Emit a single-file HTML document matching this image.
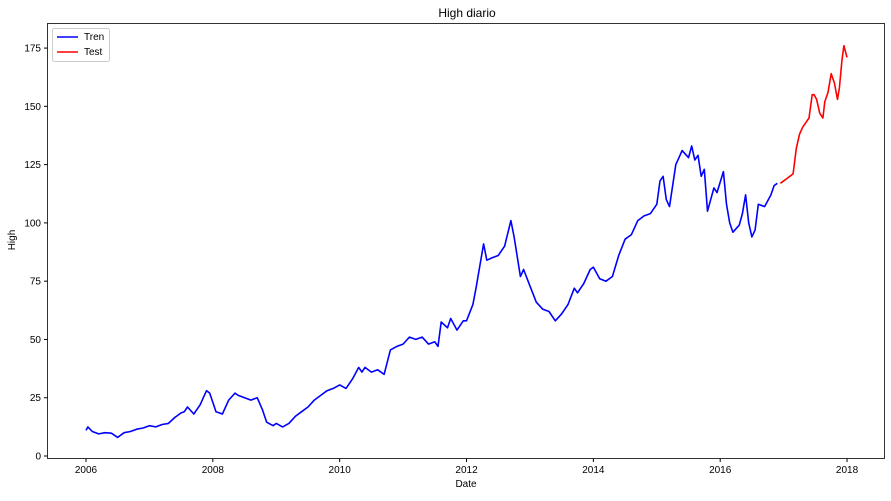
<!DOCTYPE html>
<html><head><meta charset="utf-8"><style>
body{margin:0;background:#fff;font-family:"Liberation Sans","DejaVu Sans",sans-serif}
svg text{font-family:"Liberation Sans","DejaVu Sans",sans-serif;fill:#000}
</style></head><body>
<svg id="chart" width="891" height="496" xmlns="http://www.w3.org/2000/svg">
<text x="467" y="17" font-size="12" text-anchor="middle">High diario</text>
<text x="466" y="487" font-size="10" text-anchor="middle">Date</text>
<text x="15" y="240" font-size="10" text-anchor="middle" transform="rotate(-90 15 240)">High</text>
<g id="ticks"></g>
<g id="series"></g>
<rect x="47.5" y="23.5" width="837" height="435" fill="none" stroke="#000" stroke-width="0.8"/>
<g>
<rect x="52.5" y="28.5" width="57" height="33" rx="2" fill="#fff" stroke="#ccc"/>
<line x1="57" y1="37" x2="78" y2="37" stroke="#0000ff" stroke-width="1.5"/>
<text x="84" y="40" font-size="10">Tren</text>
<line x1="57" y1="52" x2="78" y2="52" stroke="#ff0000" stroke-width="1.5"/>
<text x="84" y="55" font-size="10">Test</text>
</g>
</svg>
<script>
const xTicks=[2006,2008,2010,2012,2014,2016,2018];
const yTicks=[0,25,50,75,100,125,150,175];
const trainDates=[2006.0,2006.03,2006.1,2006.2,2006.3,2006.4,2006.5,2006.6,2006.7,2006.8,2006.9,2007.0,2007.1,2007.2,2007.3,2007.4,2007.5,2007.55,2007.6,2007.7,2007.8,2007.85,2007.9,2007.95,2008.05,2008.15,2008.25,2008.35,2008.4,2008.5,2008.6,2008.7,2008.78,2008.85,2008.95,2009.0,2009.1,2009.2,2009.3,2009.4,2009.5,2009.6,2009.7,2009.8,2009.9,2010.0,2010.1,2010.2,2010.3,2010.35,2010.4,2010.5,2010.6,2010.7,2010.8,2010.9,2011.0,2011.1,2011.2,2011.3,2011.4,2011.5,2011.55,2011.6,2011.7,2011.75,2011.85,2011.95,2012.0,2012.1,2012.15,2012.2,2012.27,2012.32,2012.4,2012.5,2012.6,2012.7,2012.75,2012.85,2012.9,2013.0,2013.1,2013.2,2013.3,2013.4,2013.5,2013.6,2013.7,2013.75,2013.85,2013.95,2014.0,2014.1,2014.2,2014.3,2014.4,2014.5,2014.6,2014.7,2014.8,2014.9,2015.0,2015.05,2015.1,2015.15,2015.2,2015.3,2015.35,2015.4,2015.5,2015.55,2015.6,2015.65,2015.7,2015.75,2015.8,2015.9,2015.95,2016.05,2016.1,2016.15,2016.2,2016.3,2016.35,2016.4,2016.45,2016.5,2016.55,2016.6,2016.7,2016.8,2016.85,2016.9,2016.95];
const trainValues=[11,12.5,10.5,9.5,10,9.8,8,10,10.5,11.5,12,13,12.5,13.5,14,16.5,18.5,19,21,18,22,25,28,27,19,18,24,27,26,25,24,25,20,14.5,13,14,12.5,14,17,19,21,24,26,28,29,30.5,29,33,38,36,38,36,37,35,45.5,47,48,51,50,51,48,49,47,57.5,55,59,54,58,58,65,72,80,91,84,85,86,90,101,94,77,80,73,66,63,62,58,61,65,72,70,74,80,81,76,75,77,86,93,95,101,103,104,108,118,120,110,107,125,128,131,128,133,127,129,120,123,105,115,113,122,108,100,96,99,104,112,100,94,97,108,107,112,116,117];
const testDates=[2016.95,2017.05,2017.15,2017.2,2017.25,2017.3,2017.35,2017.4,2017.45,2017.48,2017.52,2017.57,2017.62,2017.65,2017.7,2017.75,2017.8,2017.85,2017.88,2017.92,2017.95,2018.0];
const testValues=[117,119,121,132,138,141,143,145,155,155,153,147,145,152,156,164,160,153,158,170,176,171];
const X=y=>86+(y-2006)*63.42, Y=v=>456-v*2.331;
const NS='http://www.w3.org/2000/svg';
const tg=document.getElementById('ticks'), sg=document.getElementById('series');
xTicks.forEach(t=>{
 const l=document.createElementNS(NS,'line');l.setAttribute('x1',X(t));l.setAttribute('x2',X(t));l.setAttribute('y1',458.5);l.setAttribute('y2',462);l.setAttribute('stroke','#000');
 
 
 tg.appendChild(l);
 const s=document.createElementNS(NS,'text');s.setAttribute('x',X(t));s.setAttribute('y',473);s.setAttribute('font-size','10');s.setAttribute('text-anchor','middle');s.textContent=t;
 
 
 tg.appendChild(s);
});
yTicks.forEach(t=>{
 const l=document.createElementNS(NS,'line');l.setAttribute('x1',44);l.setAttribute('x2',47.5);l.setAttribute('y1',Y(t));l.setAttribute('y2',Y(t));l.setAttribute('stroke','#000');
 
 
 tg.appendChild(l);
 const s=document.createElementNS(NS,'text');s.setAttribute('x',41);s.setAttribute('y',Y(t)+3.5);s.setAttribute('font-size','10');s.setAttribute('text-anchor','end');s.textContent=t;
 
 
 tg.appendChild(s);
});
function line(d,v,c,name){
 const p=document.createElementNS(NS,'polyline');
 p.setAttribute('points',d.map((x,i)=>X(x).toFixed(1)+','+Y(v[i]).toFixed(1)).join(' '));
 p.setAttribute('fill','none');p.setAttribute('stroke',c);p.setAttribute('stroke-width','1.6');p.setAttribute('stroke-linejoin','round');
 
 
 sg.appendChild(p);
}
line(trainDates,trainValues,'#0000ff','tren-line');
line(testDates,testValues,'#ff0000','test-line');
</script>
</body></html>
